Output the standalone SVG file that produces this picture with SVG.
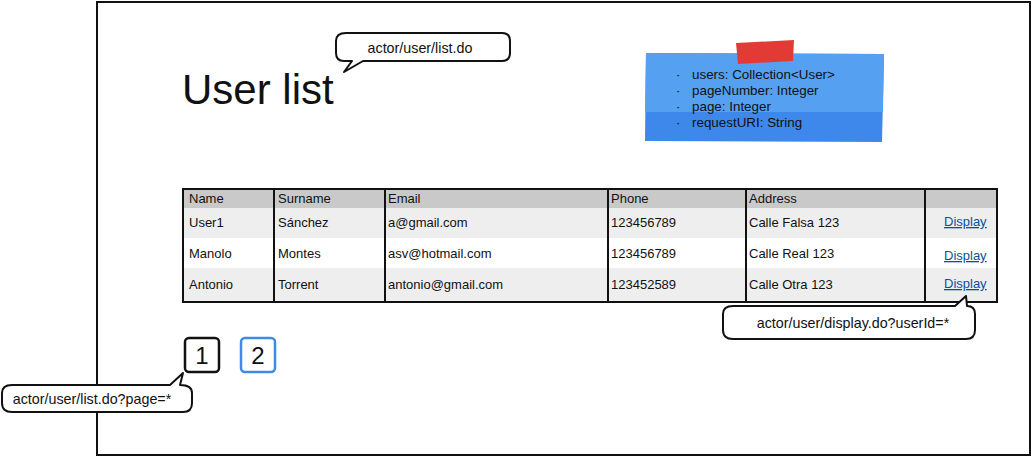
<svg xmlns="http://www.w3.org/2000/svg" width="1034" height="458" viewBox="0 0 1034 458">
<style>
text{font-family:"Liberation Sans","Noto Sans",sans-serif;fill:#111}
.t{font-size:13px}
.s{font-size:13.4px}
.b{font-size:14.3px}
.lnk{font-size:13px;fill:#0b4f9e;text-decoration:underline}
.bub{fill:#fff;stroke:#111;stroke-width:2;stroke-linejoin:round}
.grid{stroke:#111;stroke-width:2;fill:none}
</style>
<rect width="1034" height="458" fill="#fff"/>
<g id="frame"><rect x="97" y="2" width="933" height="453" fill="#fff" stroke="#111" stroke-width="2"/></g>
<g id="title"><text x="182" y="104" style="font-size:42px">User list</text></g>
<g id="note">
<path d="M646 53 L884 54 L882 142 L645 141 Z" fill="#3d88ea"/>
<path d="M646 53 L884 54 L883 112 L645 112 Z" fill="#56a0f2"/>
<path d="M736 43 L794 40 L793 61 L738 64 Z" fill="#e23b36"/>
<g class="s">
<text x="676" y="79">·</text><text x="692" y="79">users: Collection&lt;User&gt;</text>
<text x="676" y="95">·</text><text x="692" y="95">pageNumber: Integer</text>
<text x="676" y="111">·</text><text x="692" y="111">page: Integer</text>
<text x="676" y="127">·</text><text x="692" y="127">requestURI: String</text>
</g>
</g>
<g id="table">
<rect x="183" y="189" width="814" height="19" fill="#c9c9c9"/>
<rect x="183" y="208" width="814" height="30" fill="#eeeeee"/>
<rect x="183" y="238" width="814" height="30" fill="#ffffff"/>
<rect x="183" y="268" width="814" height="34" fill="#eeeeee"/>
<rect x="183" y="189" width="814" height="113" class="grid"/>
<path class="grid" d="M274 189V302M385 189V302M608 189V302M746 189V302M925 189V302"/>
<g class="t">
<text x="189" y="203">Name</text><text x="278" y="203">Surname</text><text x="388" y="203">Email</text><text x="611" y="203">Phone</text><text x="749" y="203">Address</text>
<text x="189" y="227">User1</text><text x="278" y="227">Sánchez</text><text x="388" y="227">a@gmail.com</text><text x="611" y="227">123456789</text><text x="749" y="227">Calle Falsa 123</text>
<text x="189" y="258">Manolo</text><text x="278" y="258">Montes</text><text x="388" y="258">asv@hotmail.com</text><text x="611" y="258">123456789</text><text x="749" y="258">Calle Real 123</text>
<text x="189" y="289">Antonio</text><text x="278" y="289">Torrent</text><text x="388" y="289">antonio@gmail.com</text><text x="611" y="289">123452589</text><text x="749" y="289">Calle Otra 123</text>
</g>
<text class="lnk" x="944" y="226">Display</text>
<text class="lnk" x="944" y="260">Display</text>
<text class="lnk" x="944" y="288">Display</text>
</g>
<g id="pages">
<rect x="185" y="338" width="34" height="34" rx="4" fill="#fff" stroke="#111" stroke-width="2.5"/>
<text x="202" y="364" text-anchor="middle" style="font-size:24px">1</text>
<rect x="241" y="338" width="34" height="34" rx="4" fill="#fff" stroke="#3d8be8" stroke-width="2.5"/>
<text x="258" y="364" text-anchor="middle" style="font-size:24px">2</text>
</g>
<g id="connectors">
<path class="bub" d="M346 33 H502 Q510 33 510 41 V53 Q510 61 502 61 H363 L344 72 L352 61 H344 Q336 61 336 53 V41 Q336 33 346 33 Z"/>
<path class="bub" d="M733 306 H955 L966 296 L967 306 Q975 306 975 314 V330 Q975 339 966 339 H733 Q723 339 723 330 V314 Q723 306 733 306 Z"/>
<path class="bub" d="M12 385 H170 L183 373 L180 385 Q192 385 192 393 V403 Q192 412 183 412 H12 Q2 412 2 403 V393 Q2 385 12 385 Z"/>
</g>
<g id="labels" class="b">
<text x="420" y="53" text-anchor="middle">actor/user/list.do</text>
<text x="853" y="328" text-anchor="middle">actor/user/display.do?userId=*</text>
<text x="92" y="404" text-anchor="middle">actor/user/list.do?page=*</text>
</g>
</svg>
